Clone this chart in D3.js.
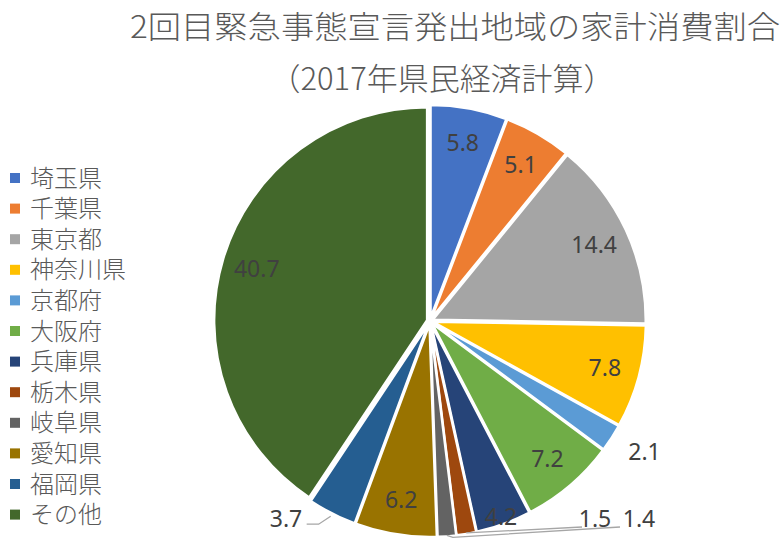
<!DOCTYPE html>
<html>
<head>
<meta charset="utf-8">
<script src="https://cdn.jsdelivr.net/npm/d3@7"></script>
<style>
  body { margin: 0; background: #fff; }
  svg { display: block; font-family: "Noto Sans CJK JP", "Noto Sans", sans-serif; }
</style>
</head>
<body>
<script>
// data
let prefs  = ['埼玉県','千葉県','東京都','神奈川県','京都府','大阪府','兵庫県','栃木県','岐阜県','愛知県','福岡県','その他'];
let shares = [5.8, 5.1, 14.4, 7.8, 2.1, 7.2, 4.2, 1.5, 1.4, 6.2, 3.7, 40.7];
let colors = ['#4472C4','#ED7D31','#A5A5A5','#FFC000','#5B9BD5','#70AD47','#264478','#9E480E','#636363','#997300','#255E91','#43682B'];
let titleLines = ['2回目緊急事態宣言発出地域の家計消費割合', '（2017年県民経済計算）'];

let w = 784, h = 548;
let cx = 430, cy = 321, R = 213;
let explode = 3;

// label placement (Excel "best fit" look)
let labelR = {6: 208};               // index -> radius for inside labels
let outside = {                       // index -> fixed label spot
  4:  {dr: 28, dx: 12, dy: 0},
  7:  {x: 595, y: 519},
  8:  {x: 639, y: 519},
  10: {x: 286, y: 519}
};

let svg = d3.select('body').append('svg')
    .attr('width', w)
    .attr('height', h);

svg.selectAll('.title')
    .data(titleLines)
    .enter()
    .append('text')
    .attr('class', 'title')
    .attr('x', (d, i) => i == 0 ? 455 : 442)
    .attr('y', (d, i) => i == 0 ? 27 : 79)
    .attr('dy', '0.36em')
    .attr('text-anchor', 'middle')
    .attr('textLength', (d, i) => i == 0 ? 650 : 345)
    .attr('lengthAdjust', 'spacingAndGlyphs')
    .style('font-size', '31px')
    .style('font-weight', 300)
    .style('fill', '#595959')
    .text(d => d);

let pie = d3.pie().sort(null).value(d => d);
let arcs = pie(shares);
let arc = d3.arc().innerRadius(0).outerRadius(R);

let g = svg.append('g').attr('transform', `translate(${cx},${cy})`);

g.selectAll('path.slice')
    .data(arcs)
    .enter()
    .append('path')
    .attr('class', 'slice')
    .attr('d', arc)
    .attr('fill', (d, i) => colors[i])
    .attr('stroke', '#fff')
    .attr('stroke-width', 2.5)
    .attr('transform', d => {
        let a = (d.startAngle + d.endAngle) / 2;
        return `translate(${explode * Math.sin(a)},${-explode * Math.cos(a)})`;
    });

let pt = (a, r) => [r * Math.sin(a), -r * Math.cos(a)];
let mid = d => (d.startAngle + d.endAngle) / 2;

// leader lines for the small outside labels
let leaders = [
  {i: 10, pts: d => { let p = pt(mid(d), R + 6); return [p, [p[0] - 12, p[1] + 8], [p[0] - 24, p[1] + 8]]; }},
  {i: 7,  pts: d => { let p = pt(mid(d), R + 2); return [p, [152, 206]]; }},
  {i: 8,  pts: d => { let p = pt(mid(d), R + 2); return [p, [p[0] + 6, p[1] + 2], [190, 206]]; }}
];
leaders.forEach(l => {
    g.append('path')
        .attr('d', d3.line()(l.pts(arcs[l.i])))
        .attr('fill', 'none')
        .attr('stroke', '#A6A6A6')
        .attr('stroke-width', 1.3);
});

g.selectAll('.lbl')
    .data(arcs)
    .enter()
    .append('text')
    .attr('class', 'lbl')
    .attr('transform', (d, i) => {
        let o = outside[i];
        if (o && o.x != null) return `translate(${o.x - cx},${o.y - cy})`;
        if (o) {
            let p = pt(mid(d), R + o.dr);
            return `translate(${p[0] + o.dx},${p[1] + o.dy})`;
        }
        let p = pt(mid(d), labelR[i] || 181);
        return `translate(${p[0]},${p[1]})`;
    })
    .attr('dy', '0.36em')
    .attr('text-anchor', 'middle')
    .style('font-family', '"Noto Sans", "Liberation Sans", sans-serif')
    .style('font-size', '23px')
    .style('fill', '#404040')
    .text(d => d.data.toFixed(1));

let legend = svg.append('g').attr('transform', 'translate(10,178)');
let rows = legend.selectAll('g')
    .data(prefs)
    .enter()
    .append('g')
    .attr('transform', (d, i) => `translate(0,${i * 30.6})`);

rows.append('rect')
    .attr('x', 0)
    .attr('y', -5)
    .attr('width', 10)
    .attr('height', 10)
    .attr('fill', (d, i) => colors[i]);

rows.append('text')
    .attr('x', 20)
    .attr('dy', '0.36em')
    .style('font-size', '24px')
    .style('font-weight', 300)
    .style('fill', '#595959')
    .text(d => d);
</script>
</body>
</html>
